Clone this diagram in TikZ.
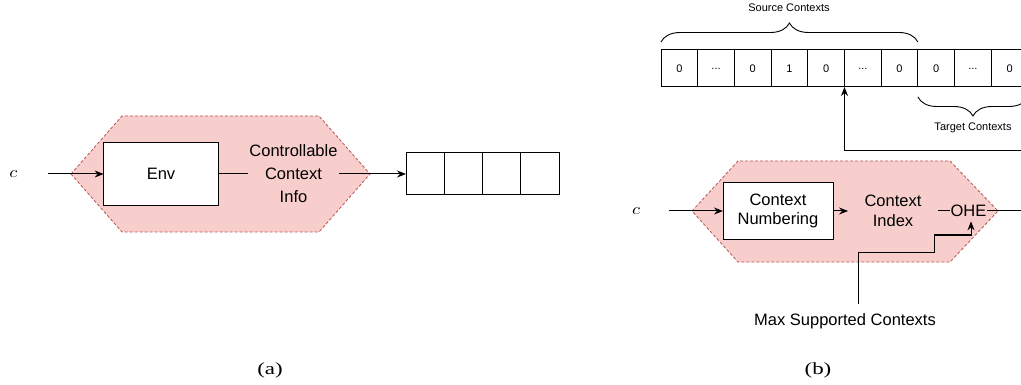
\documentclass[tikz,border=0pt]{standalone}
\usepackage{fontspec}
\setmainfont{Liberation Sans}
\newfontfamily\capfont{Liberation Serif}
\usetikzlibrary{arrows.meta,decorations.pathreplacing,calc}
\definecolor{hexfill}{HTML}{F8CECC}
\definecolor{hexdraw}{HTML}{B85450}
\begin{document}
\begin{tikzpicture}[x=1pt,y=-1pt,
  line width=1pt,
  arr/.style={-{Stealth[length=9pt,width=7pt]}},
  box/.style={draw, fill=white, inner sep=0pt, outer sep=0pt},
  cell/.style={draw, fill=white, minimum width=36.7pt, minimum height=37pt, inner sep=0pt, outer sep=0pt, font=\fontsize{11}{13}\selectfont},
  qcell/.style={draw, fill=white, minimum width=38.3pt, minimum height=42pt, inner sep=0pt, outer sep=0pt},
  hex/.style={fill=hexfill, draw=hexdraw, dash pattern=on 3pt off 2pt, line width=0.8pt},
  lbl/.style={font=\fontsize{16.5}{20}\selectfont},
  small/.style={font=\fontsize{11}{13}\selectfont},
  var/.style={font=\fontsize{10}{12}\selectfont, transform shape, xscale=1.85, yscale=1.6, inner sep=1.5pt},
  capt/.style={font=\capfont\fontsize{17}{20}\selectfont, transform shape, xscale=1.35},
  brc/.style={decorate, decoration={brace, amplitude=19pt}, line width=0.9pt},
]
\useasboundingbox (0,0) rectangle (1021,385);
\clip (0,0) rectangle (1021,385);

% ---------------- (a) ----------------
\draw[hex] (71,174) -- (122,116) -- (319,116) -- (370,174) -- (319,232) -- (122,232) -- cycle;
\node[var] (ca) at (13.5,174) {$c$};
\node[box, lbl, minimum width=114.7pt, minimum height=63pt] (env) at (161,174) {Env};
\node[align=center, inner sep=1pt, font=\fontsize{16.5}{23}\selectfont] (info) at (293.5,174) {Controllable\\Context\\Info};
\node[qcell] (q1) at (425.15,174) {};
\node[qcell] (q2) at (463.45,174) {};
\node[qcell] (q3) at (501.75,174) {};
\node[qcell] (q4) at (540.05,174) {};
\draw[arr, shorten <=27pt] (ca.east) -- (env.west);
\draw (env.east) -- (info.west);
\draw[arr] (info.east) -- (q1.west);
\node[capt] (capa) at (270,370) {(a)};

% ---------------- (b) ----------------
\node[cell] (c1) at (679.35,68.5) {0};
\node[cell] (c2) at (716.05,68.5) {...};
\node[cell] (c3) at (752.75,68.5) {0};
\node[cell] (c4) at (789.45,68.5) {1};
\node[cell] (c5) at (826.15,68.5) {0};
\node[cell] (c6) at (862.85,68.5) {...};
\node[cell] (c7) at (899.55,68.5) {0};
\node[cell] (c8) at (936.25,68.5) {0};
\node[cell] (c9) at (972.95,68.5) {...};
\node[cell] (c10) at (1009.65,68.5) {0};
\draw[brc] ([yshift=8pt]c1.north west) -- ([yshift=8pt]c7.north east);
\node[small] (src) at (789,8) {Source Contexts};
\draw[brc] ([yshift=-10pt]c10.south east) -- ([yshift=-10pt]c8.south west);
\node[small] (tgt) at (973,128) {Target Contexts};

\draw[hex] (692,211) -- (738,161) -- (950,161) -- (998,211) -- (950,262) -- (738,262) -- cycle;
\node[var] (cb) at (636,211) {$c$};
\node[box, align=center, minimum width=110pt, minimum height=56pt, font=\fontsize{16.5}{19.5}\selectfont] (cn) at (778,211) {Context\\Numbering};
\node[align=center, inner xsep=16pt, inner ysep=2pt, font=\fontsize{16.5}{19.5}\selectfont] (ci) at (893,211) {Context\\Index};
\node[lbl, inner xsep=0pt, inner ysep=4pt] (ohe) at (968.5,211) {OHE};
\draw[arr, shorten <=25pt] (cb.east) -- (cn.west);
\draw[arr] (cn.east) -- (ci.west);
\draw (ci.east) -- (ohe.west);
\coordinate (bend) at (1045,151);
\draw[arr] (ohe.east) -| (bend) -| (c6.south west);

\node[lbl] (msc) at (845,321) {Max Supported Contexts};
\draw[arr] ([xshift=13pt,yshift=5pt]msc.north) |- (934,252) |- (971,235) -- ([xshift=2.5pt]ohe.south);
\node[capt] (capb) at (818,370) {(b)};
\end{tikzpicture}
\end{document}
